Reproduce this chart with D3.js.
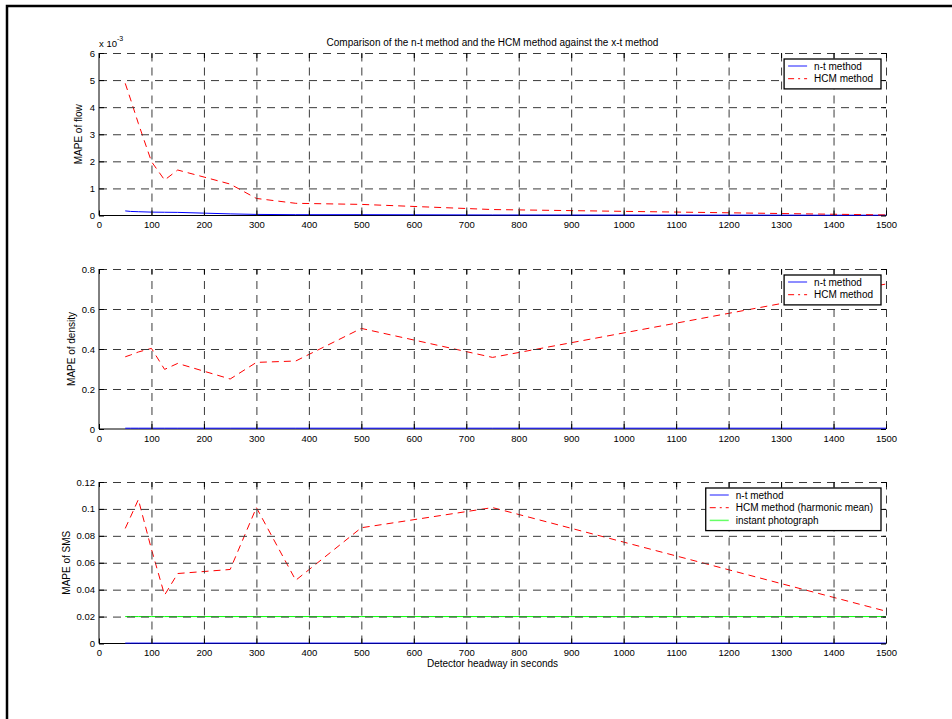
<!DOCTYPE html>
<html>
<head>
<meta charset="utf-8">
<script src="https://cdn.jsdelivr.net/npm/d3@7"></script>
<style>
	body { margin: 0; background: #fff; }
	svg { display: block; font-family: "Liberation Sans", Arial, Helvetica, sans-serif; }
</style>
</head>
<body>
<svg id="fig" width="952" height="719"></svg>
<script>
// Data
const headway = [50, 60, 75, 100, 125, 150, 250, 300, 375, 500, 750, 1500]

const flowNT = [0.00017, 0.00015, 0.00014, 0.000125, 0.00012, 0.000115, 0.00006, 0.00004, 0.00003, 0.00003, 0.00002, 0.00001]
const flowHCM = [0.00488, 0.0043, 0.0034, 0.00199, 0.00131, 0.00168, 0.00116, 0.00063, 0.00045, 0.00041, 0.00022, 0.00002]

const densityNT = [0.004, 0.004, 0.004, 0.004, 0.004, 0.004, 0.004, 0.004, 0.004, 0.004, 0.004, 0.004]
const densityHCM = [0.361, 0.37, 0.385, 0.403, 0.298, 0.328, 0.25, 0.333, 0.34, 0.503, 0.358, 0.725]

const smsNT = [0.0003, 0.0003, 0.0003, 0.0003, 0.0003, 0.0003, 0.0003, 0.0003, 0.0003, 0.0003, 0.0003, 0.0003]
const smsHCM = [0.0855, 0.094, 0.107, 0.070, 0.036, 0.052, 0.055, 0.101, 0.047, 0.086, 0.101, 0.024]
const smsInstant = [0.02, 0.02, 0.02, 0.02, 0.02, 0.02, 0.02, 0.02, 0.02, 0.02, 0.02, 0.02]

const xTicks = [0, 100, 200, 300, 400, 500, 600, 700, 800, 900, 1000, 1100, 1200, 1300, 1400, 1500]
const flowTicks = [0, 0.001, 0.002, 0.003, 0.004, 0.005, 0.006]
const densityTicks = [0, 0.2, 0.4, 0.6, 0.8]
const smsTicks = [0, 0.02, 0.04, 0.06, 0.08, 0.1, 0.12]

const titleText = 'Comparison of the n-t method and the HCM method against the x-t method'
const xLabelText = 'Detector headway in seconds'

// Layout
const plotLeft = 99,
			plotRight = 886,
			fontFamily = '"Liberation Sans", Arial, Helvetica, sans-serif',
			gridDash = '8,6',
			tickLen = 5

const panels = [
	{
		top: 53, bottom: 215.5, ticks: flowTicks, label: 'MAPE of flow', labelX: 82,
		fmt: d => Math.round(d * 1000),
		series: [
			{ name: 'n-t method', values: flowNT, color: '#0000ff', dash: null },
			{ name: 'HCM method', values: flowHCM, color: '#ff0000', dash: '7,5' }
		]
	},
	{
		top: 269, bottom: 429, ticks: densityTicks, label: 'MAPE of density', labelX: 75,
		fmt: d => String(d),
		series: [
			{ name: 'n-t method', values: densityNT, color: '#0000ff', dash: null },
			{ name: 'HCM method', values: densityHCM, color: '#ff0000', dash: '7,5' }
		]
	},
	{
		top: 482, bottom: 643.5, ticks: smsTicks, label: 'MAPE of SMS', labelX: 70,
		fmt: d => String(d),
		series: [
			{ name: 'n-t method', values: smsNT, color: '#0000ff', dash: null },
			{ name: 'HCM method (harmonic mean)', values: smsHCM, color: '#ff0000', dash: '7,5' },
			{ name: 'instant photograph', values: smsInstant, color: '#00ff00', dash: null }
		]
	}
]

const svg = d3.select('#fig')

svg.append('rect')
	.attr('width', 952).attr('height', 719)
	.attr('fill', '#fff')

// outer figure frame (runs off the right and bottom edges)
svg.append('rect')
	.attr('x', 7).attr('y', 6)
	.attr('width', 980).attr('height', 760)
	.attr('fill', 'none')
	.attr('stroke', '#000')
	.attr('stroke-width', 2.5)

const xSc = d3.scaleLinear()
	.domain([0, 1500])
	.range([plotLeft, plotRight])

panels.forEach(drawPanel)

function drawPanel(p) {
	const ySc = d3.scaleLinear()
		.domain([0, p.ticks[p.ticks.length - 1]])
		.range([p.bottom, p.top])
	const h = p.bottom - p.top

	const g = svg.append('g').classed('panel', true)

	// solid left and bottom axis lines
	g.append('path')
		.attr('d', `M${plotLeft},${p.top}V${p.bottom}H${plotRight}`)
		.attr('fill', 'none')
		.attr('stroke', '#000')

	// data
	const lineMkr = d3.line()
		.x((d, i) => xSc(headway[i]))
		.y(d => ySc(d))

	g.selectAll('.series')
		.data(p.series)
		.enter().append('path')
			.classed('series', true)
			.attr('d', d => lineMkr(d.values))
			.attr('fill', 'none')
			.attr('stroke', d => d.color)
			.attr('stroke-width', 1)
			.attr('stroke-dasharray', d => d.dash)

	// dashed grid, drawn over the lines
	const vGrid = g.append('g')
		.attr('transform', `translate(0, ${p.bottom})`)
		.call(d3.axisBottom(xSc).tickValues(xTicks.slice(1)).tickSize(-h).tickFormat(''))
	const hGrid = g.append('g')
		.attr('transform', `translate(${plotLeft}, 0)`)
		.call(d3.axisLeft(ySc).tickValues(p.ticks.slice(1)).tickSize(-(plotRight - plotLeft)).tickFormat(''))
	;[vGrid, hGrid].forEach(s => {
		s.select('.domain').remove()
		s.selectAll('line')
			.attr('stroke', '#3a3a3a')
			.attr('stroke-dasharray', gridDash)
	})

	// ticks and tick labels
	const xAxis = g.append('g')
		.attr('transform', `translate(0, ${p.bottom})`)
		.call(d3.axisBottom(xSc).tickValues(xTicks).tickSize(-tickLen).tickSizeOuter(0).tickPadding(6).tickFormat(d => String(d)))
	const yAxis = g.append('g')
		.attr('transform', `translate(${plotLeft}, 0)`)
		.call(d3.axisLeft(ySc).tickValues(p.ticks).tickSize(-tickLen).tickSizeOuter(0).tickPadding(4).tickFormat(p.fmt))
	const topTicks = g.append('g')
		.attr('transform', `translate(0, ${p.top})`)
		.call(d3.axisTop(xSc).tickValues(xTicks).tickSize(-tickLen).tickFormat(''))
	const rightTicks = g.append('g')
		.attr('transform', `translate(${plotRight}, 0)`)
		.call(d3.axisRight(ySc).tickValues(p.ticks).tickSize(-tickLen).tickFormat(''))

	;[xAxis, yAxis, topTicks, rightTicks].forEach(s => {
		s.select('.domain').remove()
		s.attr('font-family', fontFamily).attr('font-size', 9.5)
	})

	// y label
	g.append('text')
		.attr('transform', `translate(${p.labelX}, ${(p.top + p.bottom) / 2}) rotate(-90)`)
		.attr('text-anchor', 'middle')
		.attr('font-size', 10)
		.text(p.label)

	drawLegend(g, p.series, plotRight - 5, p.top + 6)
}

function drawLegend(g, items, right, top) {
	const rowH = 12.7
	const lg = g.append('g').classed('legend', true)

	const texts = lg.selectAll('text')
		.data(items)
		.enter().append('text')
			.attr('y', (d, i) => top + 7 + i * rowH)
			.attr('dy', '0.35em')
			.attr('font-size', 10)
			.text(d => d.name)

	const textW = d3.max(texts.nodes(), n => n.getComputedTextLength())
	const boxW = 30 + textW + 8
	const boxH = items.length * rowH + 4.5
	const left = right - boxW

	texts.attr('x', left + 30)

	lg.insert('rect', 'text')
		.attr('x', left).attr('y', top)
		.attr('width', boxW).attr('height', boxH)
		.attr('fill', '#fff')
		.attr('stroke', '#000')
		.attr('stroke-width', 1.3)

	lg.selectAll('line')
		.data(items)
		.enter().append('line')
			.attr('x1', left + 4).attr('x2', left + 23)
			.attr('y1', (d, i) => top + 7 + i * rowH)
			.attr('y2', (d, i) => top + 7 + i * rowH)
			.attr('stroke', d => d.color)
			.attr('stroke-width', d => d.dash ? 1 : 1.5)
			.attr('stroke-opacity', d => d.dash ? 1 : 0.6)
			.attr('stroke-dasharray', d => d.dash ? '6,4,2,4' : null)
}

// title, exponent note and x label
svg.append('text')
	.attr('x', (plotLeft + plotRight) / 2).attr('y', 46)
	.attr('text-anchor', 'middle')
	.attr('font-size', 10)
	.text(titleText)

const expo = svg.append('text')
	.attr('x', plotLeft).attr('y', 47)
	.attr('font-size', 9.5)
expo.append('tspan').text('x 10')
expo.append('tspan')
	.attr('dy', -6)
	.attr('font-size', 7)
	.text('-3')

svg.append('text')
	.attr('x', (plotLeft + plotRight) / 2).attr('y', 667)
	.attr('text-anchor', 'middle')
	.attr('font-size', 10)
	.text(xLabelText)
</script>
</body>
</html>
